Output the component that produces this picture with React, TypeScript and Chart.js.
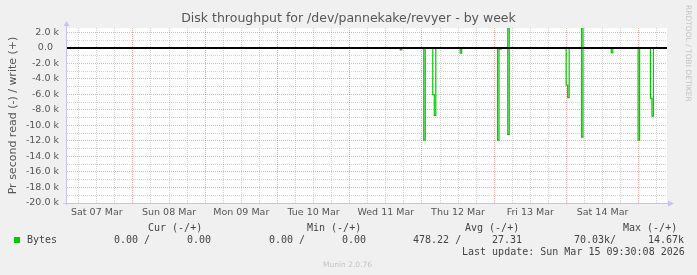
import React, { useEffect, useRef } from "react";
import { Chart, registerables } from "chart.js";

Chart.register(...registerables);

const TITLE = "Disk throughput for /dev/pannekake/revyer - by week";
const Y_TITLE = "Pr second read (-) / write (+)";

// x values are hours since Sat 07 Mar 00:00
const X_MIN = 2.1;
const X_MAX = 201.4;
const Y_MIN = -20000;
const Y_MAX = 2580;

const dayLabels = ["Sat 07 Mar", "Sun 08 Mar", "Mon 09 Mar", "Tue 10 Mar", "Wed 11 Mar", "Thu 12 Mar", "Fri 13 Mar", "Sat 14 Mar"];
const dayLabelHours = [12, 36, 60, 84, 108, 132, 156, 180];
const xGridHours = [6, 12, 18, 24, 30, 36, 42, 48, 54, 60, 66, 72, 78, 84, 90, 96, 102, 108, 114, 120, 126, 132, 138, 144, 150, 156, 162, 168, 174, 180, 186, 192, 198];
const yGridValues = [-20000, -19000, -18000, -17000, -16000, -15000, -14000, -13000, -12000, -11000, -10000, -9000, -8000, -7000, -6000, -5000, -4000, -3000, -2000, -1000, 0, 1000, 2000];

// read (-) series
const readHours = [2.1, 112.8, 113.3, 120.6, 121.1, 123.6, 124.1, 124.6, 132.7, 133.2, 145.1, 145.6, 145.9, 146.3, 148.5, 149.0, 167.9, 168.4, 168.9, 173.0, 173.5, 182.9, 183.4, 191.8, 192.3, 195.9, 196.4, 196.9, 201.4];
const readValues = [0, -250, 0, -11900, 0, -6000, -8700, 0, -650, 0, -11900, 0, -150, 0, -11150, 0, -4800, -6400, 0, -11500, 0, -600, 0, -11900, 0, -6500, -8800, 0, 0];
// write (+) series
const writeHours = [2.1, 148.5, 149.0, 173.0, 173.5, 201.4];
const writeValues = [0, 2600, 0, 2600, 0, 0];

const seriesName = "Bytes";
const statHeaders = ["Cur (-/+)", "Min (-/+)", "Avg (-/+)", "Max (-/+)"];
const statReadValues = ["0.00 /", "0.00 /", "478.22 /", "70.03k/"];
const statWriteValues = ["0.00", "0.00", "27.31", "14.67k"];
const lastUpdate = "Last update: Sun Mar 15 09:30:08 2026";
const footer = "Munin 2.0.76";
const watermark = "RRDTOOL / TOBI OETIKER";

const GREEN = "#00cc00";
const MAJOR = "rgba(225, 70, 70, 0.42)";
const MINOR = "rgba(140, 140, 140, 0.38)";
const AXIS = "rgb(196, 196, 250)";
const TEXT = "#555555";

const muninPlugin = {
  id: "muninDecor",
  beforeDraw(chart: any) {
    const { ctx, chartArea: a } = chart;
    ctx.save();
    ctx.fillStyle = "#ffffff";
    ctx.fillRect(a.left, a.top, a.right - a.left, a.bottom - a.top);
    ctx.fillStyle = TEXT;
    ctx.font = "12.5px 'DejaVu Sans'";
    ctx.textAlign = "center";
    ctx.textBaseline = "middle";
    ctx.fillText(TITLE, chart.width / 2, 18.5);
    ctx.restore();
  },
  afterDatasetsDraw(chart: any) {
    const { ctx, chartArea: a } = chart;
    const y0 = Math.round(chart.scales.y.getPixelForValue(0));
    ctx.save();
    ctx.strokeStyle = "#000000";
    ctx.lineWidth = 2;
    ctx.beginPath();
    ctx.moveTo(a.left, y0);
    ctx.lineTo(a.right, y0);
    ctx.stroke();
    // axes
    ctx.lineWidth = 1;
    ctx.strokeStyle = AXIS;
    ctx.fillStyle = AXIS;
    ctx.beginPath();
    ctx.moveTo(a.left - 0.5, a.bottom + 2);
    ctx.lineTo(a.left - 0.5, a.top - 4);
    ctx.moveTo(a.left - 4, a.bottom + 0.5);
    ctx.lineTo(a.right + 2, a.bottom + 0.5);
    ctx.stroke();
    ctx.beginPath();
    ctx.moveTo(a.left - 3.5, a.top - 2);
    ctx.lineTo(a.left + 2.5, a.top - 2);
    ctx.lineTo(a.left - 0.5, a.top - 7);
    ctx.closePath();
    ctx.fill();
    ctx.beginPath();
    ctx.moveTo(a.right + 1, a.bottom - 2.5);
    ctx.lineTo(a.right + 1, a.bottom + 3.5);
    ctx.lineTo(a.right + 7, a.bottom + 0.5);
    ctx.closePath();
    ctx.fill();
    ctx.restore();
  },
};

export default function App() {
  const ref = useRef<HTMLCanvasElement | null>(null);

  useEffect(() => {
    if (!ref.current) return;
    const chart = new Chart(ref.current, {
      type: "line",
      data: {
        datasets: [
          {
            label: "read",
            data: readHours.map((h, i) => ({ x: h, y: readValues[i] })),
            borderColor: GREEN,
            borderWidth: 1.2,
            pointRadius: 0,
            stepped: true,
            fill: false,
          },
          {
            label: "write",
            data: writeHours.map((h, i) => ({ x: h, y: writeValues[i] })),
            borderColor: GREEN,
            borderWidth: 1.2,
            pointRadius: 0,
            stepped: true,
            fill: false,
          },
        ],
      },
      options: {
        animation: false,
        responsive: false,
        devicePixelRatio: 1,
        layout: { padding: { left: 0, right: 30, top: 28, bottom: 0 } },
        plugins: {
          legend: { display: false },
          tooltip: { enabled: false },
          title: { display: false },
        },
        scales: {
          x: {
            type: "linear",
            min: X_MIN,
            max: X_MAX,
            afterBuildTicks: (s: any) => {
              s.ticks = xGridHours.map((v) => ({ value: v }));
            },
            afterFit: (s: any) => {
              s.height = 72;
            },
            grid: {
              drawTicks: false,
              color: (c: any) => (c.tick && c.tick.value % 24 === 0 ? MAJOR : MINOR),
              lineWidth: 1,
            },
            border: { display: false, dash: [1, 1] },
            ticks: {
              autoSkip: false,
              maxRotation: 0,
              padding: 4,
              color: TEXT,
              font: { family: "'DejaVu Sans'", size: 9.5 },
              callback: (v: any) => {
                const idx = dayLabelHours.indexOf(Number(v));
                return idx >= 0 ? dayLabels[idx] : "";
              },
            },
          },
          y: {
            type: "linear",
            min: Y_MIN,
            max: Y_MAX,
            afterBuildTicks: (s: any) => {
              s.ticks = yGridValues.map((v) => ({ value: v }));
            },
            afterFit: (s: any) => {
              s.width = 67;
            },
            grid: {
              drawTicks: false,
              color: (c: any) => {
                const v = c.tick ? c.tick.value : 1;
                if (v === 0) return "rgba(0,0,0,0)";
                return v % 2000 === 0 ? MAJOR : MINOR;
              },
              lineWidth: 1,
            },
            border: { display: false, dash: [1, 1] },
            title: {
              display: true,
              text: Y_TITLE,
              color: TEXT,
              font: { family: "'DejaVu Sans'", size: 11 },
              padding: { top: 6.5, bottom: 0 },
            },
            ticks: {
              autoSkip: false,
              padding: 8,
              color: TEXT,
              font: { family: "'DejaVu Sans'", size: 9.5 },
              callback: (v: any) => {
                const n = Number(v);
                if (n % 2000 !== 0) return "";
                if (n === 0) return "0.0  ";
                return (n / 1000).toFixed(1) + " k";
              },
            },
          },
        },
      },
      plugins: [muninPlugin],
    });
    return () => chart.destroy();
  }, []);

  const mono: React.CSSProperties = {
    position: "absolute",
    fontFamily: "'DejaVu Sans Mono', monospace",
    fontSize: "10px",
    lineHeight: "12px",
    color: "#444444",
    whiteSpace: "pre",
  };
  const headerX = [148, 307, 465, 623];
  const readX = [114, 269, 413, 574];
  const writeX = [187, 342, 492, 648];

  return (
    <div
      style={{
        position: "fixed",
        left: 0,
        top: 0,
        width: 697,
        height: 275,
        background: "#f0f0f0",
        overflow: "hidden",
      }}
    >
      <canvas ref={ref} width={697} height={275} style={{ position: "absolute", left: 0, top: 0, width: 697, height: 275 }} />
      {statHeaders.map((t, i) => (
        <div key={"h" + i} style={{ ...mono, left: headerX[i], top: 222 }}>{t}</div>
      ))}
      <div style={{ position: "absolute", left: 14, top: 237, width: 6, height: 6, background: GREEN }} />
      <div style={{ ...mono, left: 27, top: 234 }}>{seriesName}</div>
      {statReadValues.map((t, i) => (
        <div key={"r" + i} style={{ ...mono, left: readX[i], top: 234 }}>{t}</div>
      ))}
      {statWriteValues.map((t, i) => (
        <div key={"w" + i} style={{ ...mono, left: writeX[i], top: 234 }}>{t}</div>
      ))}
      <div style={{ ...mono, left: 462, top: 246 }}>{lastUpdate}</div>
      <div
        style={{
          position: "absolute",
          left: 323,
          top: 260,
          fontFamily: "'DejaVu Sans', sans-serif",
          fontSize: "7.5px",
          lineHeight: "9px",
          color: "#c4c4c4",
          whiteSpace: "pre",
        }}
      >
        {footer}
      </div>
      <div
        style={{
          position: "absolute",
          left: 684,
          top: 5,
          fontFamily: "'DejaVu Sans', sans-serif",
          fontSize: "7.5px",
          lineHeight: "9px",
          color: "#c4c4c4",
          whiteSpace: "pre",
          writingMode: "vertical-rl",
        }}
      >
        {watermark}
      </div>
    </div>
  );
}
